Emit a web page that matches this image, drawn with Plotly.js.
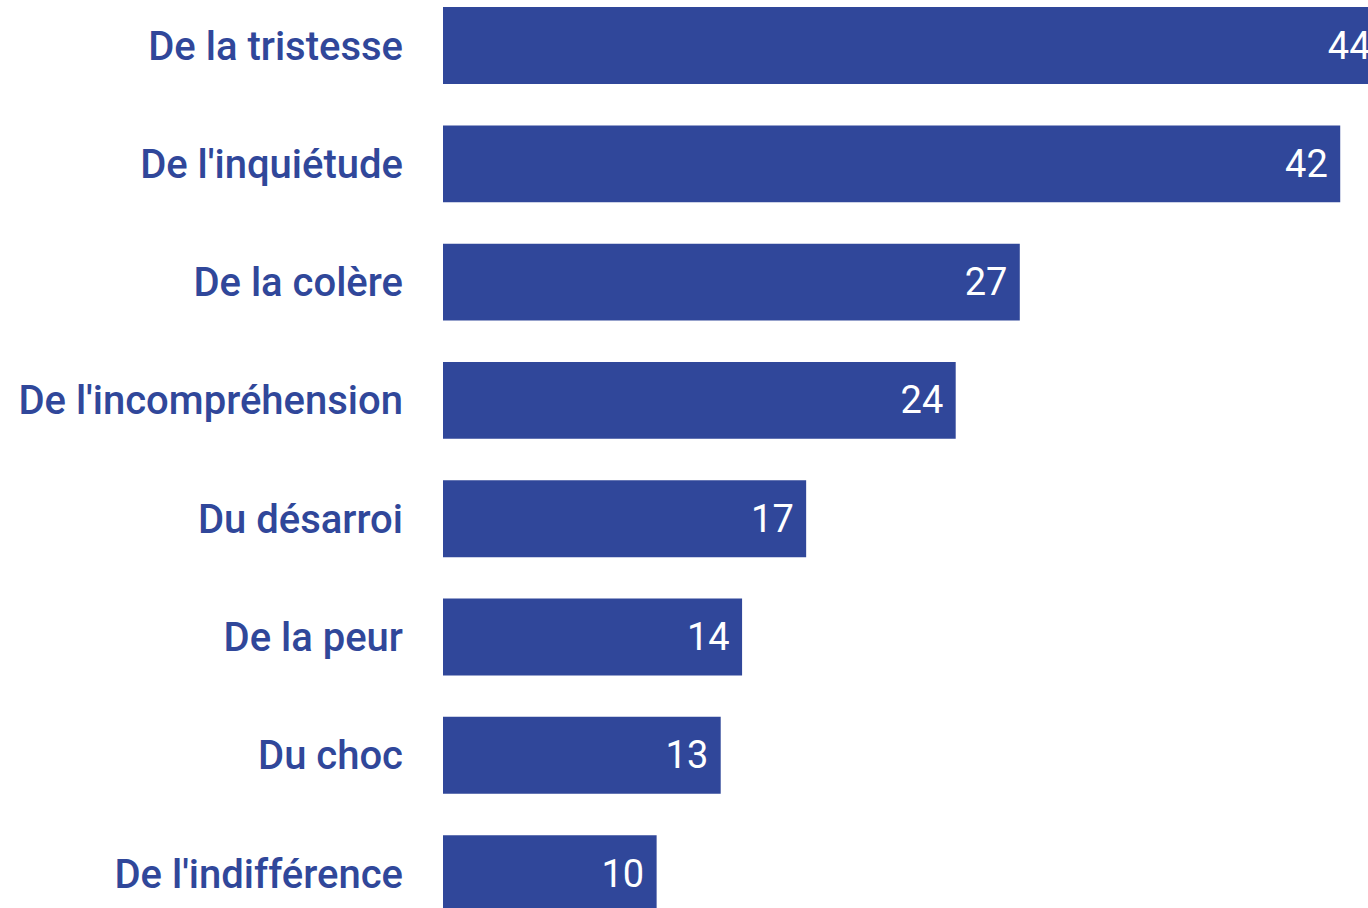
<!DOCTYPE html>
<html>
<head>
<meta charset="utf-8">
<script src="https://cdn.plot.ly/plotly-3.0.1.min.js"></script>
<style>
  html, body { margin: 0; padding: 0; background: #fff; }
  #chart { width: 1368px; height: 908px; }
</style>
</head>
<body>
<div id="chart"></div>
<script>
// emotions, top to bottom
var emotions = [
  "De la tristesse",
  "De l'inquiétude",
  "De la colère",
  "De l'incompréhension",
  "Du désarroi",
  "De la peur",
  "Du choc",
  "De l'indifférence"
];
var shares = [44, 42, 27, 24, 17, 14, 13, 10];

var barColor = '#30479a';

var trace = {
  type: 'bar',
  orientation: 'h',
  y: emotions,
  x: shares,
  marker: { color: barColor },
  text: shares.map(function (v) { return v + '\u00a0'; }),
  textposition: 'inside',
  insidetextanchor: 'end',
  textangle: 0,
  insidetextfont: { family: 'Roboto, sans-serif', size: 38, color: '#ffffff' },
  hoverinfo: 'none',
  cliponaxis: true
};

var layout = {
  width: 1368,
  height: 908,
  margin: { l: 443, r: 0, t: 0, b: 0, pad: 0 },
  paper_bgcolor: '#ffffff',
  plot_bgcolor: '#ffffff',
  showlegend: false,
  bargap: 0.35,
  xaxis: {
    range: [0, 43.3],
    visible: false,
    showgrid: false,
    zeroline: false
  },
  yaxis: {
    type: 'category',
    range: [7.291, -0.385],
    showgrid: false,
    zeroline: false,
    showline: false,
    ticks: '',
    ticklabelstandoff: 39,
    tickfont: { family: 'Roboto, sans-serif', size: 40, color: barColor, weight: 500 }
  }
};

Plotly.newPlot('chart', [trace], layout, { staticPlot: true, displayModeBar: false });
</script>
</body>
</html>
